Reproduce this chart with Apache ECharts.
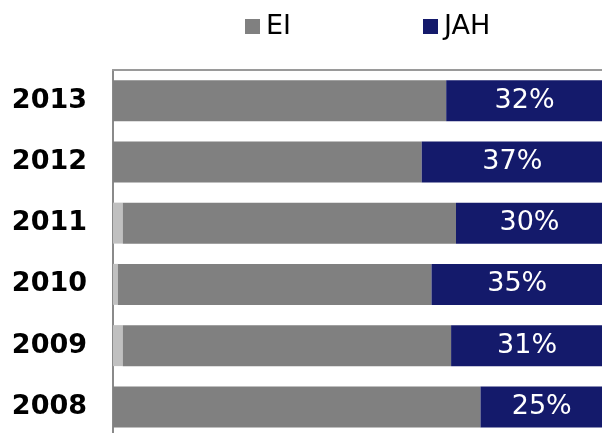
<!DOCTYPE html>
<html>
<head>
<meta charset="utf-8">
<script src="https://cdn.jsdelivr.net/npm/echarts@6/dist/echarts.min.js"></script>
<style>html,body{margin:0;padding:0;background:#fff}#c{width:602px;height:433px}</style>
</head>
<body>
<div id="c"></div>
<script>
const categories = ['2008', '2009', '2010', '2011', '2012', '2013'];
const otherValues = [0, 2, 1, 2, 0, 0];
const eiValues = [75, 67, 64, 68, 63, 68];
const jahValues = [25, 31, 35, 30, 37, 32];

const chart = echarts.init(document.getElementById('c'), null, {renderer: 'canvas'});
chart.setOption({
  animation: false,
  backgroundColor: '#ffffff',
  textStyle: {fontFamily: 'DejaVu Sans'},
  legend: {
    data: [
      {name: 'EI', itemStyle: {color: '#808080'}},
      {name: 'JAH', itemStyle: {color: '#141a6b'}}
    ],
    left: 240, top: 8,
    icon: 'rect', itemWidth: 15, itemHeight: 15, itemGap: 132,
    textStyle: {fontSize: 27, color: '#000', fontFamily: 'DejaVu Sans', padding: [0, 0, 0, 1]}
  },
  grid: {left: 113, top: 70, width: 490, height: 367.5, containLabel: false, outerBoundsMode: 'none'},
  xAxis: {
    type: 'value', min: 0, max: 100, position: 'top',
    axisLine: {show: true, lineStyle: {color: '#9a9a9a', width: 2}},
    axisTick: {show: false}, axisLabel: {show: false}, splitLine: {show: false}
  },
  yAxis: {
    type: 'category', data: categories,
    axisLine: {show: true, lineStyle: {color: '#8a8a8a', width: 2}},
    axisTick: {show: false},
    axisLabel: {fontSize: 27, fontWeight: 'bold', color: '#000', fontFamily: 'DejaVu Sans', margin: 26}
  },
  series: [
    {name: 'Other', type: 'bar', stack: 't', barWidth: 41, data: otherValues,
     itemStyle: {color: '#c0c0c0'}, silent: true},
    {name: 'EI', type: 'bar', stack: 't', barWidth: 41, data: eiValues,
     itemStyle: {color: '#808080'}},
    {name: 'JAH', type: 'bar', stack: 't', barWidth: 41, data: jahValues,
     itemStyle: {color: '#141a6b'},
     label: {show: true, position: 'inside', formatter: '{c}%', color: '#fff', fontSize: 27, fontFamily: 'DejaVu Sans'}}
  ]
});
</script>
</body>
</html>
